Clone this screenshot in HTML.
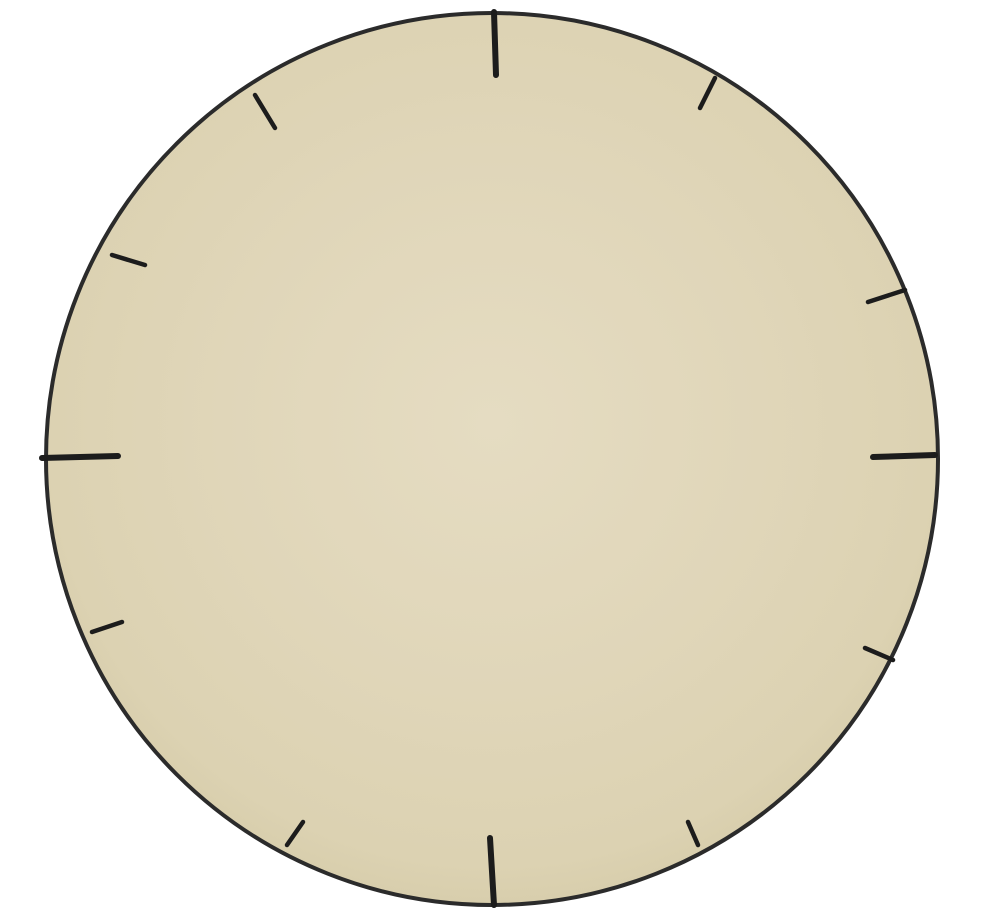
<!DOCTYPE html>
<html>
<head>
<meta charset="utf-8">
<style>
  html, body { margin: 0; padding: 0; background: #ffffff; }
  body { width: 990px; height: 910px; overflow: hidden; }
  svg { display: block; }
</style>
</head>
<body>
<svg id="clock" width="990" height="910" viewBox="0 0 990 910" xmlns="http://www.w3.org/2000/svg">
  <defs>
    <radialGradient id="faceGrad" cx="0.5" cy="0.46" r="0.55">
      <stop offset="0" stop-color="#e5dcc2"/>
      <stop offset="0.55" stop-color="#e0d6b9"/>
      <stop offset="0.9" stop-color="#dcd2b2"/>
      <stop offset="1" stop-color="#d7cdab"/>
    </radialGradient>
  </defs>
  <circle cx="492" cy="459" r="446" fill="url(#faceGrad)" stroke="#2b2b2b" stroke-width="4"/>
  <g id="ticks"></g>
</svg>
<script>
const hours = [12, 1, 2, 3, 4, 5, 6, 7, 8, 9, 10, 11];
const tickStart = [[494,12],[715,78],[905,290],[935,455],[893,660],[698,845],[494,905],[287,845],[92,632],[42,458],[112,255],[255,95]];
const tickEnd = [[496,75],[700,108],[868,302],[873,457],[865,648],[688,822],[490,838],[303,822],[122,622],[118,456],[145,265],[275,128]];
const majorHours = [12, 3, 6, 9];
const g = document.getElementById('ticks');
hours.forEach(function (h, i) {
  const major = majorHours.indexOf(h) >= 0;
  const line = document.createElementNS('http://www.w3.org/2000/svg', 'line');
  line.setAttribute('x1', tickStart[i][0]);
  line.setAttribute('y1', tickStart[i][1]);
  line.setAttribute('x2', tickEnd[i][0]);
  line.setAttribute('y2', tickEnd[i][1]);
  line.setAttribute('stroke', '#1c1c1c');
  line.setAttribute('stroke-width', major ? 6 : 4.5);
  line.setAttribute('stroke-linecap', 'round');
  
  
  g.appendChild(line);
});
</script>
</body>
</html>
